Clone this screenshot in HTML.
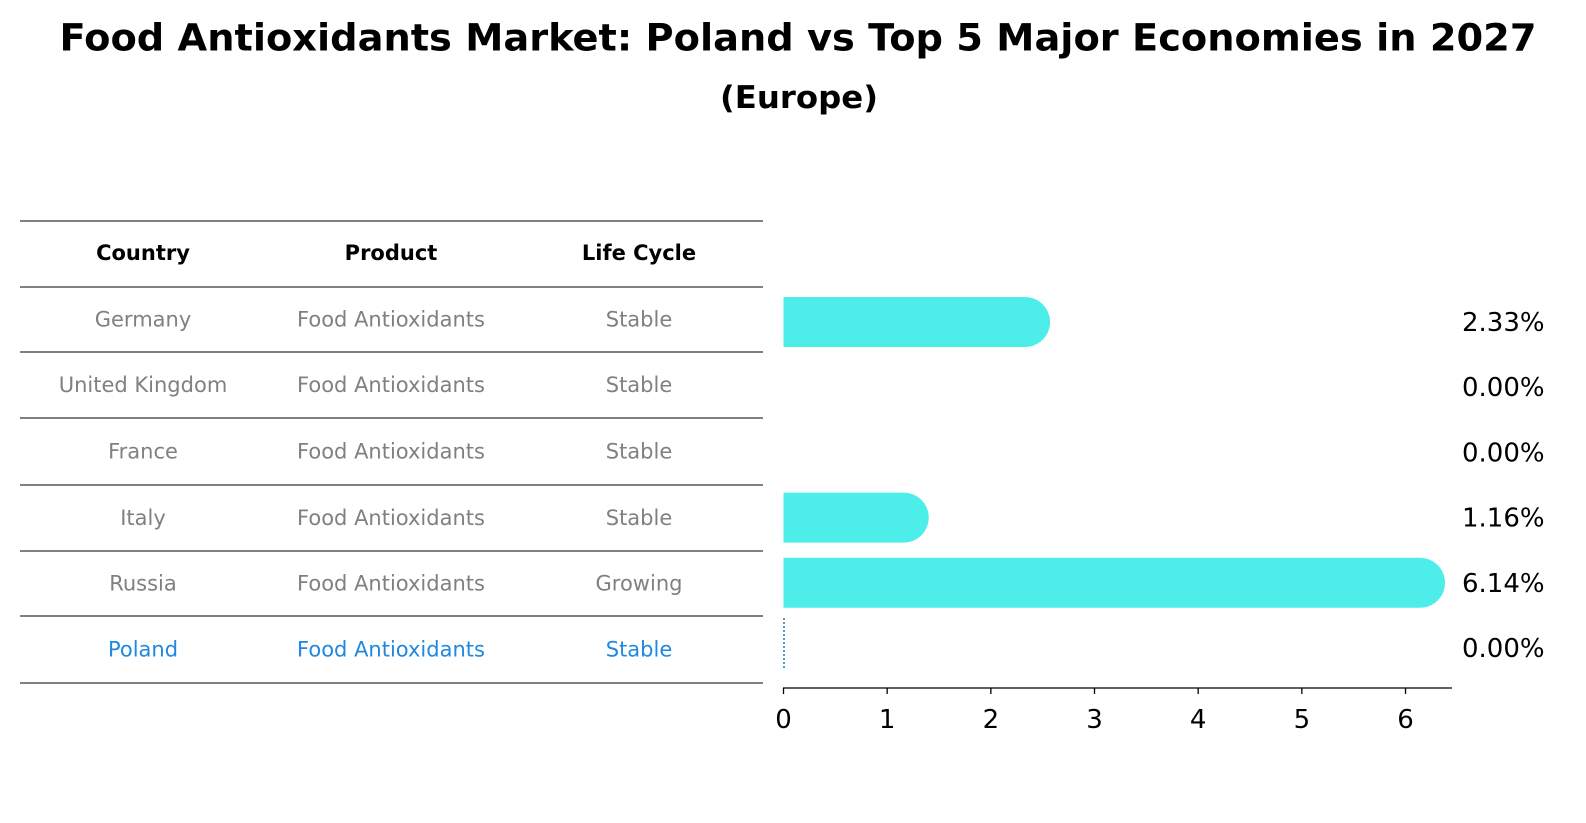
<!DOCTYPE html>
<html><head><meta charset="utf-8"><style>
html,body{margin:0;padding:0;background:#fff;}
svg{display:block;font-family:"DejaVu Sans","Liberation Sans",sans-serif;}
</style></head><body>
<svg id="chart" width="1586" height="823" viewBox="0 0 1586 823">
<text x="798" y="38" text-anchor="middle" dominant-baseline="central" font-size="37" font-weight="bold" textLength="1477" lengthAdjust="spacingAndGlyphs">Food Antioxidants Market: Poland vs Top 5 Major Economies in 2027</text>
<text x="799" y="98" text-anchor="middle" dominant-baseline="central" font-size="31" font-weight="bold" textLength="158" lengthAdjust="spacingAndGlyphs">(Europe)</text>
<g id="table">
<text x="143" y="253" text-anchor="middle" dominant-baseline="central" font-size="21" font-weight="bold">Country</text>
<text x="391" y="253" text-anchor="middle" dominant-baseline="central" font-size="21" font-weight="bold">Product</text>
<text x="639" y="253" text-anchor="middle" dominant-baseline="central" font-size="21" font-weight="bold">Life Cycle</text>
</g>
<g id="bars"></g>
<g id="axis"></g>
</svg>
<script>
const countries = ["Germany","United Kingdom","France","Italy","Russia","Poland"];
const products = ["Food Antioxidants","Food Antioxidants","Food Antioxidants","Food Antioxidants","Food Antioxidants","Food Antioxidants"];
const lifeCycles = ["Stable","Stable","Stable","Stable","Growing","Stable"];
const values = [2.33,0.00,0.00,1.16,6.14,0.00];
const xTicks = [0,1,2,3,4,5,6];

const NS="http://www.w3.org/2000/svg";
function mk(tag,attrs,parent){const e=document.createElementNS(NS,tag);for(const k in attrs)e.setAttribute(k,attrs[k]);parent.appendChild(e);return e;}
const x0=783.5, pxPer=103.67;
const xs=v=>x0+v*pxPer;
const rowY=i=>320+i*65.2;
const table=document.getElementById('table');
const lineYs=[221,287,352,418,485,551,616,683];
lineYs.forEach((y,i)=>{
  const l=mk('line',{x1:20,x2:763,y1:y,y2:y,stroke:'#000','stroke-width':1},table);
  
  
});
countries.forEach((c,i)=>{
  const col=i===countries.length-1?'#1f88e0':'#808080';
  const y=(lineYs[i+1]+lineYs[i+2])/2;
  [[143,c,'cell-country'],[391,products[i],'cell-product'],[639,lifeCycles[i],'cell-life-cycle']].forEach(([x,t,n])=>{
    const e=mk('text',{x:x,y:y,'text-anchor':'middle','dominant-baseline':'central','font-size':21,fill:col},table);
    e.textContent=t;
    
    
  });
});
const bars=document.getElementById('bars');
const h=50,r=25;
values.forEach((v,i)=>{
  const cy=rowY(i)+2;
  if(i===countries.length-1){
    const l=mk('line',{x1:784,x2:784,y1:618,y2:670,stroke:'#1f77b4','stroke-width':1.5,'stroke-dasharray':'2,2'},bars);
    
    
  } else if(v>0){
    const xe=xs(v);
    const p=mk('path',{d:`M${x0},${cy-h/2} H${xe} A${r},${r} 0 0 1 ${xe},${cy+h/2} H${x0} Z`,fill:'#4deeea'},bars);
    
    
  }
  const t=mk('text',{x:1462,y:rowY(i)+3,'dominant-baseline':'central','font-size':26},bars);
  t.textContent=v.toFixed(2)+'%';
  
  
});
const axis=document.getElementById('axis');
const al=mk('line',{x1:783,x2:1452,y1:688,y2:688,stroke:'#000','stroke-width':1.3},axis);


xTicks.forEach(t=>{
  const tl=mk('line',{x1:xs(t),x2:xs(t),y1:688,y2:694,stroke:'#000','stroke-width':1.3},axis);
  
  
  const tx=mk('text',{x:xs(t),y:720,'text-anchor':'middle','dominant-baseline':'central','font-size':26},axis);
  tx.textContent=t;
  
  
});
</script>
</body></html>
